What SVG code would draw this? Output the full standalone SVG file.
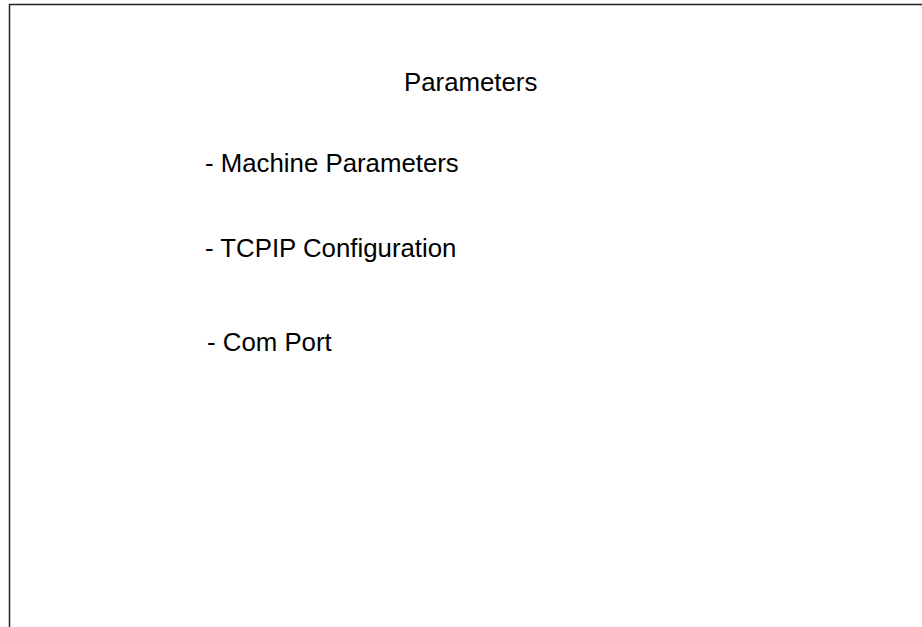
<svg xmlns="http://www.w3.org/2000/svg" width="922" height="627" viewBox="0 0 922 627">
<style>
.t{font-family:"Liberation Sans",Arial,sans-serif;font-size:25.8px;fill:#000}
</style>
<rect x="0" y="0" width="922" height="627" fill="#fff"/>
<g id="frame"><rect x="9.5" y="4.5" width="930" height="640" fill="none" stroke="#222" stroke-width="1.5"/></g>
<g id="title"><text class="t" x="404" y="91">Parameters</text></g>
<g id="item1"><text class="t" x="205" y="172">- Machine Parameters</text></g>
<g id="item2"><text class="t" x="205" y="257">- TCPIP Configuration</text></g>
<g id="item3"><text class="t" x="207" y="351">- Com Port</text></g>
</svg>
